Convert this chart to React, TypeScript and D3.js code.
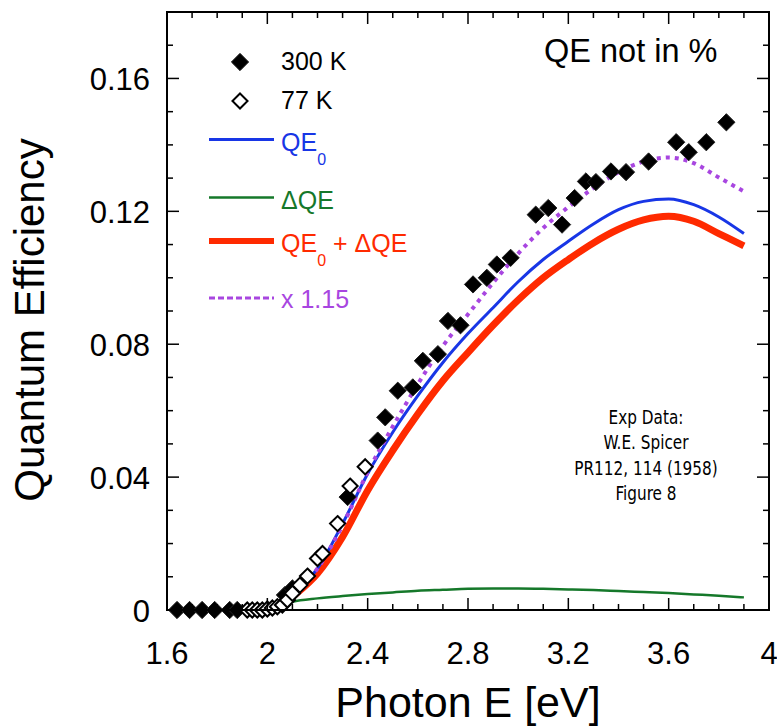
import React from "react";
import * as d3 from "d3";

// ---- data ----
const k300E = [1.64, 1.69, 1.74, 1.79, 1.85, 1.88, 2.07, 2.1, 2.32, 2.44, 2.47, 2.52, 2.58, 2.62, 2.68, 2.72, 2.77, 2.82, 2.875, 2.915, 2.97, 3.07, 3.12, 3.175, 3.225, 3.27, 3.31, 3.37, 3.43, 3.52, 3.63, 3.68, 3.75, 3.83];
const k300Q = [0, 0, 0, 0, 0, 0, 0.0045, 0.0065, 0.034, 0.051, 0.058, 0.066, 0.067, 0.075, 0.077, 0.087, 0.0857, 0.098, 0.1, 0.104, 0.106, 0.119, 0.121, 0.116, 0.124, 0.129, 0.1288, 0.132, 0.1318, 0.135, 0.1408, 0.1378, 0.1408, 0.1468];

const k77E = [1.92, 1.94, 1.96, 1.98, 2.0, 2.02, 2.04, 2.06, 2.08, 2.1, 2.13, 2.16, 2.2, 2.22, 2.28, 2.33, 2.39];
const k77Q = [0, 0, 0, 0, 0.0003, 0.0006, 0.001, 0.0015, 0.003, 0.005, 0.0075, 0.0102, 0.0155, 0.017, 0.026, 0.0373, 0.0431];

const curveE = [2.0, 2.05, 2.1, 2.2, 2.3, 2.4, 2.5, 2.6, 2.7, 2.8, 2.9, 3.0, 3.1, 3.2, 3.3, 3.4, 3.5, 3.6, 3.7, 3.8, 3.9];
const qe0 = [0, 0.0012, 0.0045, 0.0125, 0.026, 0.041, 0.0535, 0.0645, 0.0745, 0.0832, 0.091, 0.0988, 0.1055, 0.111, 0.1162, 0.1205, 0.123, 0.1237, 0.122, 0.1183, 0.1133];
const dqe = [0, 0.0015, 0.0025, 0.0035, 0.0042, 0.0048, 0.0053, 0.0058, 0.0061, 0.0064, 0.0065, 0.0065, 0.0064, 0.0062, 0.006, 0.0057, 0.0054, 0.0051, 0.0047, 0.0043, 0.0038];
const qeSum = [0, 0.001, 0.004, 0.011, 0.022, 0.036, 0.048, 0.059, 0.069, 0.0775, 0.0857, 0.0933, 0.1, 0.1055, 0.1105, 0.1146, 0.1174, 0.1185, 0.117, 0.1133, 0.1096];
const qeScaled = [0, 0.0012, 0.0046, 0.0125, 0.0255, 0.0415, 0.0552, 0.068, 0.0795, 0.089, 0.0985, 0.1073, 0.115, 0.1213, 0.127, 0.1318, 0.135, 0.1362, 0.1345, 0.1302, 0.126];

const xMajor = [1.6, 2, 2.4, 2.8, 3.2, 3.6, 4];
const xMajorLabels = ["1.6", "2", "2.4", "2.8", "3.2", "3.6", "4"];
const yMajor = [0, 0.04, 0.08, 0.12, 0.16];
const yMajorLabels = ["0", "0.04", "0.08", "0.12", "0.16"];

const noteLines = ["Exp Data:", "W.E. Spicer", "PR112, 114 (1958)", "Figure 8"];

// ---- layout ----
const W = 777, H = 728;
const L = 167, R = 769, T = 12, B = 610;
const FONT = "'Liberation Sans', Arial, Helvetica, sans-serif";

const BLUE = "#1836e6";
const GREEN = "#15782a";
const RED = "#ff2a00";
const PURPLE = "#a846e0";

export default function App() {
  const x = d3.scaleLinear().domain([1.6, 4]).range([L, R]);
  const y = d3.scaleLinear().domain([0, 0.18]).range([B, T]);

  const line = (vals: number[]) =>
    d3.line<number>().x((_, i) => x(curveE[i])).y((v) => y(v)).curve(d3.curveMonotoneX)(vals) || "";

  const diamond = d3.symbol().type(d3.symbolDiamond2).size(190)() || "";
  const diamondOpen = d3.symbol().type(d3.symbolDiamond2).size(145)() || "";

  const xMinor = d3.range(16, 41).map((v) => v / 10);
  const yMinor = d3.range(0, 19).map((v) => v / 100);

  const legendX1 = 209, legendX2 = 274, legendTX = 281;

  return (
    <svg width={W} height={H} style={{ display: "block", position: "absolute", left: 0, top: 0, background: "#fff" }}>
      <rect x={0} y={0} width={W} height={H} fill="#fff" />
      {/* curves */}
      <g fill="none">
        <path d={line(dqe)} stroke={GREEN} strokeWidth={2.5} />
        <path d={line(qeSum)} stroke={RED} strokeWidth={7} />
        <path d={line(qe0)} stroke={BLUE} strokeWidth={3} />
        <path d={line(qeScaled)} stroke={PURPLE} strokeWidth={4} strokeDasharray="4 5" />
      </g>
      {/* 300 K data */}
      <g>
        {k300E.map((e, i) => (
          <path key={"f" + i} d={diamond} transform={`translate(${x(e)},${y(k300Q[i])})`} fill="#000" stroke="#222" strokeWidth={1} />
        ))}
      </g>
      {/* 77 K data */}
      <g>
        {k77E.map((e, i) => (
          <path key={"o" + i} d={diamondOpen} transform={`translate(${x(e)},${y(k77Q[i])})`} fill="#fff" stroke="#000" strokeWidth={2} />
        ))}
      </g>
      {/* frame */}
      <rect x={L} y={T} width={R - L} height={B - T} fill="none" stroke="#000" strokeWidth={2} />
      {/* ticks */}
      <g stroke="#000" strokeWidth={1.5}>
        {xMinor.map((v, i) => {
          const major = Math.round(v * 10) % 4 === 0;
          const len = major ? 12 : 6;
          return (
            <g key={"xt" + i}>
              <line x1={x(v)} x2={x(v)} y1={B} y2={B - len} />
              <line x1={x(v)} x2={x(v)} y1={T} y2={T + len} />
            </g>
          );
        })}
        {yMinor.map((v, i) => {
          const major = Math.round(v * 100) % 4 === 0;
          const len = major ? 12 : 6;
          return (
            <g key={"yt" + i}>
              <line x1={L} x2={L + len} y1={y(v)} y2={y(v)} />
              <line x1={R} x2={R - len} y1={y(v)} y2={y(v)} />
            </g>
          );
        })}
      </g>
      {/* tick labels */}
      <g fontFamily={FONT} fontSize={31} fill="#000">
        {xMajor.map((v, i) => (
          <text key={"xl" + i} x={x(v)} y={B + 54} textAnchor="middle">{xMajorLabels[i]}</text>
        ))}
        {yMajor.map((v, i) => (
          <text key={"yl" + i} x={L - 17} y={y(v) + 12} textAnchor="end">{yMajorLabels[i]}</text>
        ))}
      </g>
      {/* axis titles */}
      <text x={(L + R) / 2} y={717} textAnchor="middle" fontFamily={FONT} fontSize={43}>Photon E [eV]</text>
      <text transform={`translate(44,${(T + B) / 2 + 9}) rotate(-90)`} textAnchor="middle" fontFamily={FONT} fontSize={42}>Quantum Efficiency</text>
      {/* QE not in % */}
      <text x={544} y={62} fontFamily={FONT} fontSize={32.5}>QE not in %</text>
      {/* legend */}
      <g fontFamily={FONT} fontSize={25}>
        <path d={diamond} transform="translate(240,62)" fill="#000" stroke="#222" strokeWidth={1} />
        <text x={legendTX} y={70}>300 K</text>
        <path d={diamondOpen} transform="translate(240,101)" fill="#fff" stroke="#000" strokeWidth={2} />
        <text x={legendTX} y={109}>77 K</text>

        <line x1={legendX1} x2={legendX2} y1={139.5} y2={139.5} stroke={BLUE} strokeWidth={3} />
        <text x={legendTX} y={151} fill={BLUE}>QE<tspan fontSize={16} dy={14}>0</tspan></text>

        <line x1={legendX1} x2={legendX2} y1={197.5} y2={197.5} stroke={GREEN} strokeWidth={2.5} />
        <text x={legendTX} y={209} fill={GREEN}>ΔQE</text>

        <line x1={legendX1} x2={legendX2} y1={241} y2={241} stroke={RED} strokeWidth={6} />
        <text x={legendTX} y={252} fill={RED}>QE<tspan fontSize={16} dy={14}>0</tspan><tspan dy={-14}> + ΔQE</tspan></text>

        <line x1={legendX1} x2={legendX2} y1={298} y2={298} stroke={PURPLE} strokeWidth={3} strokeDasharray="6 3" />
        <text x={legendTX} y={308} fill={PURPLE}>x 1.15</text>
      </g>
      {/* annotation */}
      <g fontFamily="'DejaVu Sans Condensed', 'DejaVu Sans', sans-serif" fontSize={17} textAnchor="middle" fill="#000">
        {noteLines.map((s, i) => (
          <text key={"n" + i} transform={`translate(646,${424 + i * 25.3}) scale(1,1.15)`}>{s}</text>
        ))}
      </g>
    </svg>
  );
}
